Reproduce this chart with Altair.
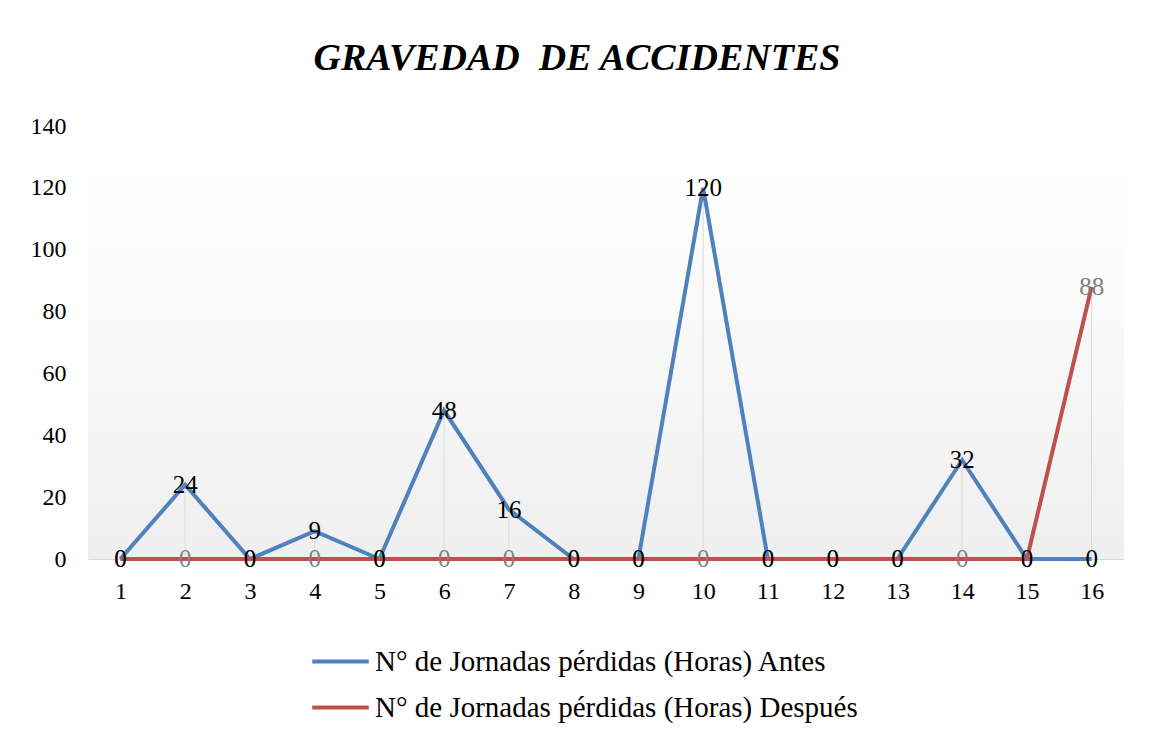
import altair as alt
import pandas as pd

categorias = list(range(1, 17))
antes = [0, 24, 0, 9, 0, 48, 16, 0, 0, 120, 0, 0, 0, 32, 0, 0]
despues = [0, 0, 0, 0, 0, 0, 0, 0, 0, 0, 0, 0, 0, 0, 0, 88]
serie_antes = "N° de Jornadas pérdidas (Horas) Antes"
serie_despues = "N° de Jornadas pérdidas (Horas) Después"
y_ticks = [0, 20, 40, 60, 80, 100, 120, 140]

BLUE = "#4F81BD"
RED = "#C0504D"
FONT = "'Liberation Serif', 'Times New Roman', serif"

rows = []
for c, v in zip(categorias, antes):
    rows.append({"x": c, "valor": v, "serie": serie_antes})
for c, v in zip(categorias, despues):
    rows.append({"x": c, "valor": v, "serie": serie_despues})
df = pd.DataFrame(rows)

drop = pd.DataFrame({"x": categorias,
                     "top": [max(a, b) for a, b in zip(antes, despues)],
                     "base": [0] * len(categorias)})

W, H = 1036, 433

x_enc = alt.X("x:O", scale=alt.Scale(type="point", padding=0.5),
              axis=alt.Axis(title=None, labelAngle=0, labelFont=FONT, labelFontSize=24,
                            labelColor="#000000", ticks=False, domainColor="#d9d9d9",
                            domainWidth=1, labelPadding=20))
y_scale = alt.Scale(domain=[0, 140], nice=False)
y_enc = alt.Y("valor:Q", scale=y_scale,
              axis=alt.Axis(title=None, values=y_ticks, grid=False, domain=False, ticks=False,
                            labelFont=FONT, labelFontSize=24, labelColor="#000000",
                            labelPadding=22))

bg_df = pd.DataFrame({"top": [125], "base": [0]})
bg = alt.Chart(bg_df).mark_rect(
    color=alt.LinearGradient(gradient="linear", x1=0, x2=0, y1=0, y2=1,
                             stops=[alt.GradientStop(color="#ffffff", offset=0),
                                    alt.GradientStop(color="#efefef", offset=1)])
).encode(
    x=alt.value(0), x2=alt.value(W),
    y=alt.Y("top:Q", scale=y_scale), y2="base:Q"
)

rules = alt.Chart(drop).mark_rule(color="#d9d9d9", strokeWidth=1).encode(
    x=x_enc, y=alt.Y("top:Q", scale=y_scale), y2="base:Q"
)

lines = alt.Chart(df).mark_line(strokeWidth=4).encode(
    x=x_enc, y=y_enc,
    color=alt.Color("serie:N",
                    scale=alt.Scale(domain=[serie_antes, serie_despues], range=[BLUE, RED]),
                    legend=alt.Legend(title=None, orient="none", legendX=222, legendY=505,
                                      direction="vertical", symbolType="stroke",
                                      symbolSize=3200, symbolStrokeWidth=4,
                                      labelFont=FONT, labelFontSize=29, labelColor="#000000",
                                      labelOffset=4, rowPadding=0, padding=0,
                                      labelLimit=800)),
)

txt_desp = alt.Chart(df[df.serie == serie_despues]).mark_text(
    font=FONT, fontSize=25, color="#7f7f7f", baseline="middle", align="center"
).encode(x=x_enc, y=y_enc, text="valor:Q")

txt_antes = alt.Chart(df[df.serie == serie_antes]).mark_text(
    font=FONT, fontSize=25, color="#000000", baseline="middle", align="center"
).encode(x=x_enc, y=y_enc, text="valor:Q")

chart = alt.layer(bg, rules, lines, txt_desp, txt_antes).properties(
    width=W, height=H,
    title=alt.TitleParams("GRAVEDAD\u00a0 DE ACCIDENTES", font=FONT, fontSize=38,
                          fontWeight="bold", fontStyle="italic", anchor="middle",
                          frame="bounds", color="#000000", offset=36),
    autosize=alt.AutoSizeParams(type="none"),
    padding={"left": 80, "top": 118, "right": 21, "bottom": 184},
).configure(background="#ffffff").configure_view(strokeWidth=0, stroke="transparent")

chart.save("out.html", embed_options={"renderer": "svg", "actions": False})
